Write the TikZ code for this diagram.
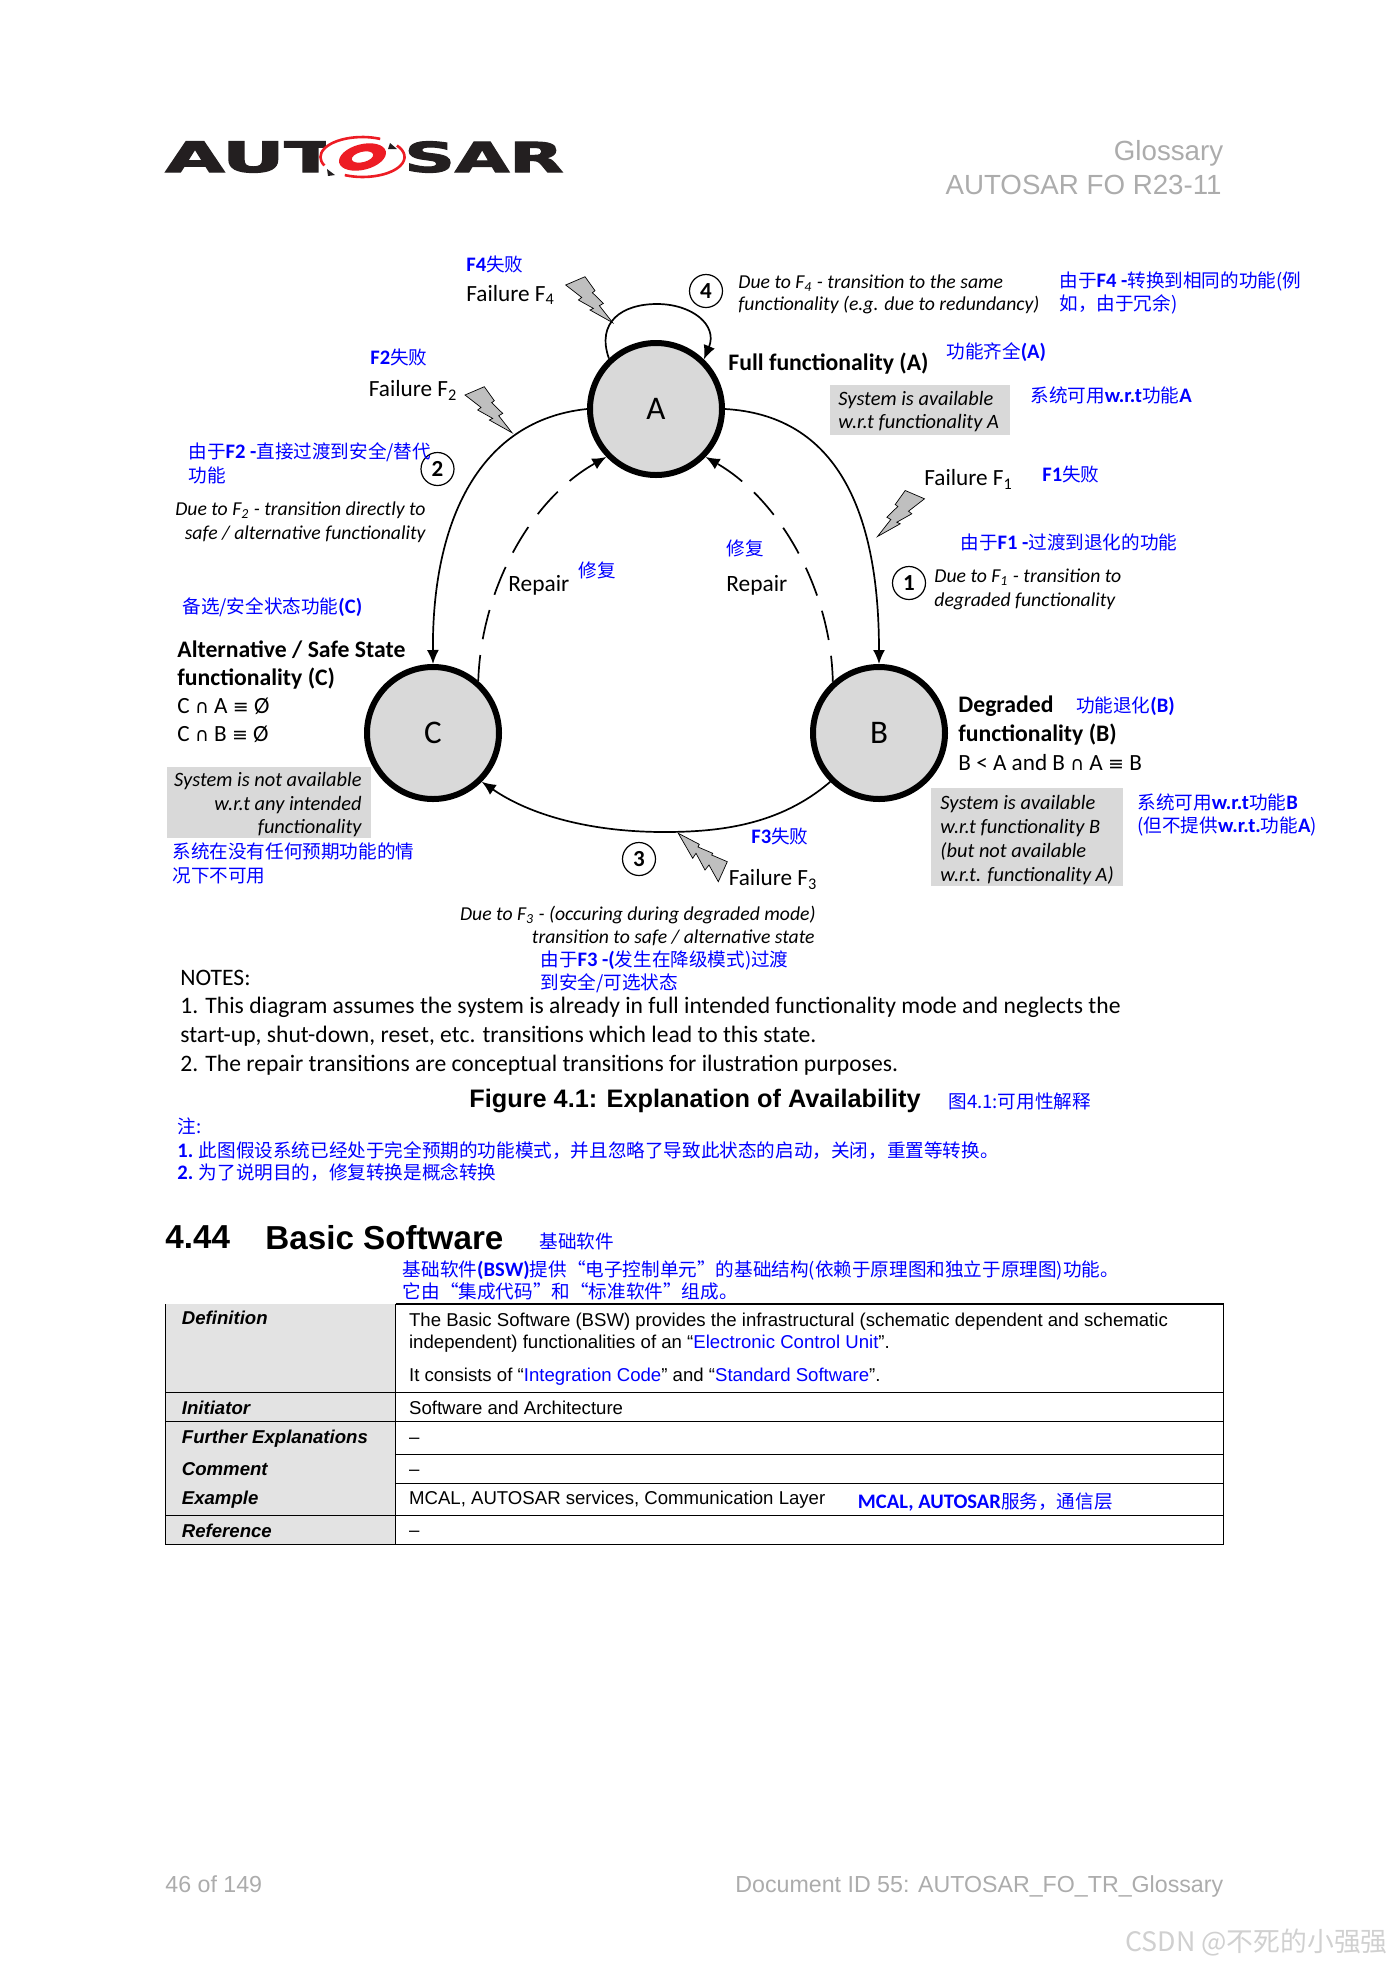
\documentclass[tikz,border=0pt]{standalone}
\usepackage{fontspec}
\usepackage{graphicx}
\usetikzlibrary{arrows.meta}
\setmainfont{Carlito}
\setsansfont{Liberation Sans}
\newfontfamily\cjk{Noto Sans CJK SC}
\newfontfamily\djv{DejaVu Sans}
\newfontfamily\logofont{DejaVu Sans}
\definecolor{cellgray}{HTML}{E3E3E3}
\definecolor{boxgray}{HTML}{D9D9D9}
\definecolor{boltgray}{HTML}{BFBFBF}
\definecolor{headgray}{HTML}{ACACAC}
\definecolor{logored}{HTML}{ED1C24}
\definecolor{logoblack}{HTML}{231F20}
\definecolor{wmgray}{HTML}{D0D0D0}
\definecolor{linkblue}{HTML}{0000FF}
\newcommand\lab[5]{\node[#4] (#1) at (#2,#3) {\vphantom{Ag}#5};}
\newcommand\bl[1]{{\fontsize{10.3}{12}\selectfont\rmfamily\bfseries #1}}
\newcommand\fsb[1]{F\textsubscript{#1}}
\newcommand\sy[1]{{\djv\fontsize{9.5}{11}\selectfont #1}}
\tikzset{
 txt/.style={inner sep=0pt,anchor=west,yshift=-1pt},
 lbl/.style={txt,font=\rmfamily\fontsize{11.6}{13}\selectfont},
 rep/.style={txt,font=\rmfamily\fontsize{11.7}{13}\selectfont},
 ital/.style={txt,font=\rmfamily\itshape\fontsize{9.85}{11}\selectfont},
 italbox/.style={txt,font=\rmfamily\itshape\fontsize{10.2}{12}\selectfont},
 bold/.style={txt,font=\rmfamily\bfseries\fontsize{11.85}{13}\selectfont},
 notes/.style={txt,font=\rmfamily\fontsize{11.8}{13}\selectfont},
 blu/.style={txt,text=linkblue,font=\cjk\fontsize{9.3}{11}\selectfont},
 head/.style={txt,text=headgray,font=\sffamily\fontsize{13.85}{16}\selectfont},
 foot/.style={txt,text=headgray,font=\sffamily\fontsize{11.6}{15}\selectfont},
 cellb/.style={txt,font=\sffamily\bfseries\itshape\fontsize{9.3}{11}\selectfont},
 cellt/.style={txt,font=\sffamily\fontsize{9.3}{11}\selectfont},
 state/.style={circle,draw=black,fill=boxgray,line width=3pt,minimum size=66pt,inner sep=0pt,font=\rmfamily\fontsize{16.5}{18}\selectfont},
 num/.style={circle,draw=black,fill=white,line width=.6pt,minimum size=16.5pt,inner sep=0pt,font=\rmfamily\bfseries\fontsize{11.5}{13}\selectfont},
 trans/.style={line width=.85pt,-{Latex[length=7pt,width=6pt]}},
 repairline/.style={trans,dash pattern=on 15pt off 8pt,dash phase=2pt},
 boltshape/.style={fill=boltgray,draw=black,line width=.35pt},
 grayrect/.style={fill=boxgray},
 rule/.style={line width=.55pt,draw=black},
}
\begin{document}
\begin{tikzpicture}[x=.5pt,y=-.5pt]
\useasboundingbox (0,0) rectangle (1389,1965);

% logo
\node[inner sep=0pt,anchor=south west,text=logoblack] (logoL) at (165,173) {\resizebox{85.5pt}{15.3pt}{\logofont\bfseries\addfontfeature{FakeBold=2.5} AUT}};
\node[inner sep=0pt,anchor=south west,text=logoblack] (logoR) at (404,173) {\resizebox{79.5pt}{15.3pt}{\logofont\bfseries\addfontfeature{FakeBold=2.5} SAR}};
\fill[white] (326,140) rectangle (404,176);
\draw[logored,line width=1.3pt] (380.2,138.9) arc[start angle=65,end angle=205,x radius=21pt,y radius=10pt];
\draw[logored,line width=1.3pt] (344.8,175.1) arc[start angle=245,end angle=395,x radius=21pt,y radius=10pt];
\fill[logored,even odd rule] (362.5,157) circle[x radius=12pt,y radius=6.4pt,rotate=14] (362.5,157) circle[x radius=5.5pt,y radius=2.6pt,rotate=14];
\fill[logoblack] (390,143)--(397,149)--(388,149)--cycle;
\fill[logoblack] (327,169)--(335,175)--(328,176)--cycle;

\lab{hdr1}{1223.6}{151.7}{head,anchor=east}{Glossary}
\lab{hdr2}{1222}{185.5}{head,anchor=east}{AUTOSAR FO R23-11}

% gray boxes
\fill[grayrect] (830,385) rectangle (1010,435);
\fill[grayrect] (167,767) rectangle (371,838);
\fill[grayrect] (931,788) rectangle (1123,886);

% states
\node[state] (a) at (656,409) {A};
\node[state] (b) at (879,733) {B};
\node[state] (c) at (433,733) {C};

% transitions
\draw[trans] (a.east) .. controls (830,415) and (879,500) .. (b.north);
\draw[trans] (a.west) .. controls (480,420) and (432,520) .. (c.north);
\draw[trans] (b.225) .. controls (780,825) and (720,832) .. (664,832) .. controls (590,832) and (530,815) .. (c.315);
\draw[trans] (a.133) .. controls (596,322) and (622,304) .. (657,304) .. controls (692,304) and (718,325) .. (a.46);
\draw[repairline] (c.49) .. controls (481,590) and (530,500) .. (a.224);
\draw[repairline] (b.132) .. controls (831,590) and (780,500) .. (a.316);

% failure bolts
\filldraw[boltshape] (565.7,285)--(585,276.7)--(595,290.7)--(592.4,292.7)--(603.4,303.4)--(599.4,305.7)--(612.7,322.7)--(590,310)--(593.4,308.4)--(578.4,300)--(581.7,297.4)--cycle;
\begin{scope}[shift={(512,432.7)}]
\filldraw[boltshape] (-47,-37.7)--(-27.7,-46)--(-17.7,-32)--(-20.3,-30)--(-9.3,-19.3)--(-13.3,-17)--(0,0)--(-22.7,-12.7)--(-19.3,-14.3)--(-34.3,-22.7)--(-31,-25.3)--cycle;
\end{scope}
\begin{scope}[shift={(877.5,536.5)},xscale=-1]
\filldraw[boltshape] (-47,-37.7)--(-27.7,-46)--(-17.7,-32)--(-20.3,-30)--(-9.3,-19.3)--(-13.3,-17)--(0,0)--(-22.7,-12.7)--(-19.3,-14.3)--(-34.3,-22.7)--(-31,-25.3)--cycle;
\end{scope}
\filldraw[boltshape] (678.3,833.3)--(699.3,844.3)--(698,847)--(712.7,853.3)--(711.7,855)--(727.3,861.7)--(718.3,881.7)--(709,865)--(705,870)--(696,853.3)--(692.7,858.3)--cycle;

% numbered circles
\node[num] (n4) at (706,291) {4};
\node[num] (n2) at (437.5,469) {2};
\node[num] (n1) at (909,583) {1};
\node[num] (n3) at (639,859) {3};

% diagram labels
\lab{f4c}{466}{264.5}{blu}{\bl{F4}失败}
\lab{f4}{466}{293}{lbl}{Failure \fsb{4}}
\lab{f2c}{370}{357}{blu}{\bl{F2}失败}
\lab{f2}{368.5}{388.6}{lbl}{Failure \fsb{2}}
\lab{t2c1}{188}{451}{blu}{由于\bl{F2 -}直接过渡到安全/替代}
\lab{t2c2}{188}{475}{blu}{功能}
\lab{t2a}{426}{508}{ital,anchor=east}{Due to \fsb{2} - transition directly to}
\lab{t2b}{426}{532}{ital,anchor=east}{safe / alternative functionality}
\lab{ccn}{182}{605.5}{blu}{备选/安全状态功能\bl{(C)}}
\lab{c1}{177}{649}{bold}{Alternative / Safe State}
\lab{c2}{177}{677}{bold}{functionality (C)}
\lab{c3}{177}{706}{lbl}{C \sy{∩} A \sy{≡} Ø}
\lab{c4}{177}{733.5}{lbl}{C \sy{∩} B \sy{≡} Ø}
\lab{cb1}{362}{779}{italbox,anchor=east}{System is not available}
\lab{cb2}{362}{803}{italbox,anchor=east}{w.r.t any intended}
\lab{cb3}{362}{826}{italbox,anchor=east}{functionality}
\lab{cc1}{172}{851}{blu}{系统在没有任何预期功能的情}
\lab{cc2}{172}{875}{blu}{况下不可用}
\lab{r1}{508}{583}{rep}{Repair}
\lab{r1c}{578}{570}{blu}{修复}
\lab{r2c}{726}{548}{blu}{修复}
\lab{r2}{726}{583}{rep}{Repair}
\lab{t4a}{738}{281}{ital}{Due to \fsb{4} - transition to the same}
\lab{t4b}{738}{303}{ital}{functionality (e.g. due to redundancy)}
\lab{t4c1}{1059}{280}{blu}{由于\bl{F4 -}转换到相同的功能(例}
\lab{t4c2}{1059}{303}{blu}{如，由于冗余)}
\lab{af}{728}{362}{bold}{Full functionality (A)}
\lab{afc}{946}{351}{blu}{功能齐全\bl{(A)}}
\lab{ab1}{838}{398.6}{italbox}{System is available}
\lab{ab2}{838}{421}{italbox}{w.r.t functionality A}
\lab{abc}{1030}{395}{blu}{系统可用\bl{w.r.t}功能\bl{A}}
\lab{f1}{924}{477.6}{lbl}{Failure \fsb{1}}
\lab{f1c}{1042}{474}{blu}{\bl{F1}失败}
\lab{t1c}{960}{541.6}{blu}{由于\bl{F1 -}过渡到退化的功能}
\lab{t1a}{934}{575}{ital}{Due to \fsb{1} - transition to}
\lab{t1b}{934}{599}{ital}{degraded functionality}
\lab{b1}{958}{704.5}{bold}{Degraded}
\lab{bcn}{1075.6}{704.5}{blu}{功能退化\bl{(B)}}
\lab{b2}{958}{733}{bold}{functionality (B)}
\lab{b3}{958}{762}{lbl}{B < A and B \sy{∩} A \sy{≡} B}
\lab{bb1}{940}{802}{italbox}{System is available}
\lab{bb2}{940}{826}{italbox}{w.r.t functionality B}
\lab{bb3}{940}{850}{italbox}{(but not available}
\lab{bb4}{940}{874}{italbox}{w.r.t. functionality A)}
\lab{bc1}{1137}{802}{blu}{系统可用\bl{w.r.t}功能\bl{B}}
\lab{bc2}{1137}{825}{blu}{(但不提供\bl{w.r.t.}功能\bl{A})}
\lab{f3c}{751}{836}{blu}{\bl{F3}失败}
\lab{f3}{728.4}{877.5}{lbl}{Failure \fsb{3}}
\lab{t3a}{816}{912.6}{ital,anchor=east}{Due to \fsb{3} - (occuring during degraded mode)}
\lab{t3b}{815}{936}{ital,anchor=east}{transition to safe / alternative state}
\lab{t3c1}{540}{959}{blu}{由于\bl{F3 -(}发生在降级模式)过渡}
\lab{t3c2}{540}{981.6}{blu}{到安全/可选状态}

% notes
\lab{no0}{180}{977.8}{notes}{NOTES:}
\lab{no1}{180}{1005.4}{notes}{1. This diagram assumes the system is already in full intended functionality mode and neglects the}
\lab{no2}{180}{1034}{notes}{start-up, shut-down, reset, etc. transitions which lead to this state.}
\lab{no3}{180}{1063}{notes}{2. The repair transitions are conceptual transitions for ilustration purposes.}
\lab{cap}{469}{1099}{txt,font=\sffamily\bfseries\fontsize{12.65}{15}\selectfont}{Figure 4.1: Explanation of Availability}
\lab{capc}{948}{1100.7}{blu}{图4.1:可用性解释}
\lab{nc0}{177}{1126}{blu}{注:}
\lab{nc1}{177}{1149.6}{blu}{\bl{1.} 此图假设系统已经处于完全预期的功能模式，并且忽略了导致此状态的启动，关闭，重置等转换。}
\lab{nc2}{177}{1172}{blu}{\bl{2.} 为了说明目的，修复转换是概念转换}

% section heading
\lab{sn}{165}{1238.6}{txt,font=\sffamily\bfseries\fontsize{16.6}{20}\selectfont}{4.44}
\lab{st}{265}{1238.6}{txt,font=\sffamily\bfseries\fontsize{16.6}{20}\selectfont}{Basic Software}
\lab{stc}{539}{1241}{blu}{基础软件}
\lab{dc1}{402.4}{1268.6}{blu}{基础软件\bl{(BSW)}提供“电子控制单元”的基础结构(依赖于原理图和独立于原理图)功能。}
\lab{dc2}{402.4}{1291}{blu}{它由“集成代码”和“标准软件”组成。}

% table
\fill[cellgray] (165.5,1304) rectangle (395.5,1544.3);
\draw[rule] (395.5,1304) -- (1223.7,1304) -- (1223.7,1544.3) -- (165.5,1544.3) -- (165.5,1304);
\draw[rule] (165.5,1392.3) -- (1223.7,1392.3);
\draw[rule] (165.5,1421.3) -- (1223.7,1421.3);
\draw[rule] (395.5,1454.3) -- (1223.7,1454.3);
\draw[rule] (395.5,1483.3) -- (1223.7,1483.3);
\draw[rule] (165.5,1515.3) -- (1223.7,1515.3);
\draw[line width=.75pt] (395.5,1304) -- (395.5,1544.3);
\lab{k1}{181.5}{1318}{cellb}{Definition}
\lab{k2}{181.5}{1407.7}{cellb}{Initiator}
\lab{k3}{181.5}{1436.7}{cellb}{Further Explanations}
\lab{k4}{181.5}{1468.7}{cellb}{Comment}
\lab{k5}{181.5}{1497.7}{cellb}{Example}
\lab{k6}{181.5}{1530.3}{cellb}{Reference}
\lab{v1a}{408.7}{1320}{cellt}{The Basic Software (BSW) provides the infrastructural (schematic dependent and schematic}
\lab{v1b}{408.7}{1341.7}{cellt}{independent) functionalities of an “\textcolor{linkblue}{Electronic Control Unit}”.}
\lab{v1c}{408.7}{1375}{cellt}{It consists of “\textcolor{linkblue}{Integration Code}” and “\textcolor{linkblue}{Standard Software}”.}
\lab{v2}{408.7}{1407.7}{cellt}{Software and Architecture}
\lab{v3}{408.7}{1436.7}{cellt}{–}
\lab{v4}{408.7}{1468.7}{cellt}{–}
\lab{v5}{408.7}{1497.7}{cellt}{MCAL, AUTOSAR services, Communication Layer}
\lab{v5c}{857.5}{1500.5}{blu}{\bl{MCAL, AUTOSAR}服务，通信层}
\lab{v6}{408.7}{1530.3}{cellt}{–}

% footer
\lab{ft1}{165}{1884}{foot}{46 of 149}
\lab{ft2}{1223.6}{1884}{foot,anchor=east}{Document ID 55: AUTOSAR\_FO\_TR\_Glossary}
\lab{wm}{1125}{1942}{txt,text=wmgray,font=\cjk\fontsize{13.4}{15}\selectfont}{CSDN @不死的小强强}
\end{tikzpicture}
\end{document}
